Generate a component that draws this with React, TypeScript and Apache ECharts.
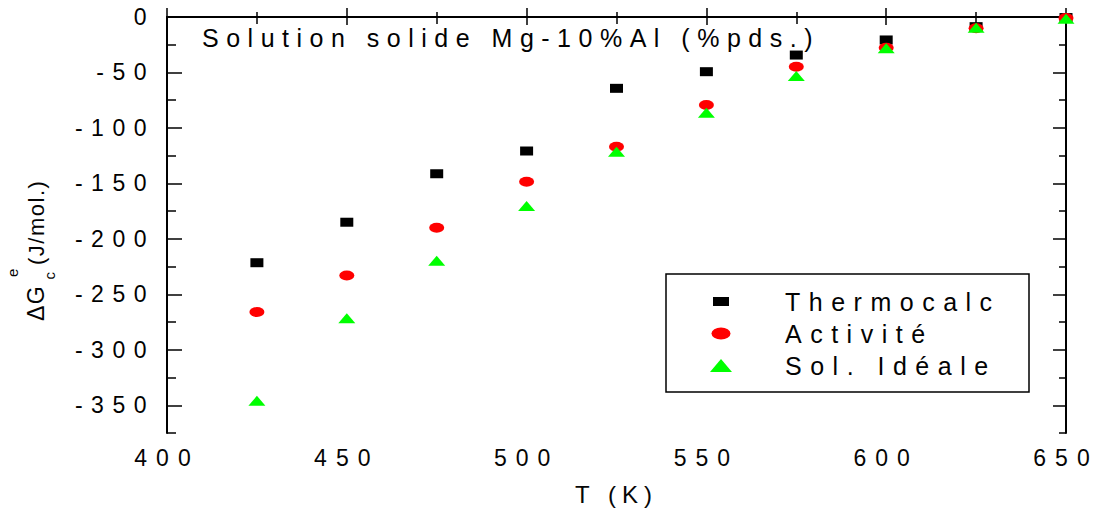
import React, { useEffect, useRef } from 'react';
import * as echarts from 'echarts';

// Temperatures (K) and excess Gibbs energy (J/mol.) for the Mg-10%Al solid solution
const temperatures = [425, 450, 475, 500, 525, 550, 575, 600, 625, 650];
const thermocalc = [-221.5, -185, -141.3, -120.8, -64.3, -49.3, -34.3, -20.7, -8.7, -0.5];
const activite = [-266, -233, -190, -148.5, -117, -79.4, -44.8, -27.7, -10.2, -1];
const solIdeale = [-346, -271.5, -219.7, -170.4, -121.4, -86.3, -53.2, -28.2, -9.6, -1.5];

const seriesNames = ['Thermocalc', 'Activité', 'Sol. Idéale'];
const titleText = 'Solution solide Mg-10%Al (%pds.)';
const xName = 'T (K)';

const xRange = [400, 650];
const yRange = [-375, 0];
const yMajorTicks = [0, -50, -100, -150, -200, -250, -300, -350];
const yMinorTicks = [-25, -75, -125, -175, -225, -275, -325, -375];

const FONT = "'Liberation Sans', Arial, sans-serif";

// text colours double as hooks for per-element letter spacing
const C_TICK = '#010101';
const C_TITLE = '#020202';
const C_LEGEND = '#030303';
const C_NAME = '#040404';
const C_XTICK = '#050505';
const C_XNAME = '#060606';

const css = `
.gchart text { letter-spacing: 0px; }
.gchart text[fill="${C_TICK}"] { letter-spacing: 8.5px; }
.gchart text[fill="${C_XTICK}"] { letter-spacing: 9px; }
.gchart text[fill="${C_TITLE}"] { letter-spacing: 7.5px; }
.gchart text[fill="${C_LEGEND}"] { letter-spacing: 8.5px; }
.gchart text[fill="${C_NAME}"] { letter-spacing: 1.5px; }
.gchart text[fill="${C_XNAME}"] { letter-spacing: 6px; }
`;

const ELLIPSE = 'path://M0,5A8,5 0 1,1 16,5A8,5 0 1,1 0,5Z';
const LEG_RECT = 'path://M0,0M79,14M12,2.5L28,2.5L28,11.5L12,11.5Z';
const LEG_ELLIPSE = 'path://M0,0M79,14M10.5,7A9.5,6 0 1,1 29.5,7A9.5,6 0 1,1 10.5,7Z';
const LEG_TRI = 'path://M0,0M79,14M9,13.5L20,0.5L31,13.5Z';

export default function App() {
  const ref = useRef<HTMLDivElement>(null);

  useEffect(() => {
    if (!ref.current) return;
    const chart = echarts.init(ref.current, undefined, { renderer: 'svg' });

    const axisLine = { show: true, lineStyle: { color: '#000', width: 2 } };
    const pair = (ys: number[]) => temperatures.map((t, i) => [t, ys[i]]);

    chart.setOption({
      animation: false,
      backgroundColor: '#fff',
      grid: { left: 167, right: 34, top: 17, bottom: 86, containLabel: false },
      title: {
        text: titleText,
        left: 202,
        top: 25,
        padding: 0,
        textStyle: { fontFamily: FONT, fontSize: 25, fontWeight: 'normal', color: C_TITLE },
      },
      legend: {
        orient: 'vertical',
        left: 701,
        top: 289,
        padding: 0,
        itemGap: 7,
        itemWidth: 79,
        itemHeight: 14,
        textStyle: { fontFamily: FONT, fontSize: 25, color: C_LEGEND },
        data: [
          { name: seriesNames[0], icon: LEG_RECT },
          { name: seriesNames[1], icon: LEG_ELLIPSE },
          { name: seriesNames[2], icon: LEG_TRI },
        ],
      },
      xAxis: [
        {
          type: 'value',
          position: 'bottom',
          min: xRange[0],
          max: xRange[1],
          interval: 50,
          name: xName,
          nameLocation: 'middle',
          nameGap: 49,
          nameTextStyle: { fontFamily: FONT, fontSize: 24, color: C_XNAME },
          axisLine,
          axisTick: { show: true, inside: true, length: 9, lineStyle: { color: '#000', width: 1.5 } },
          minorTick: { show: true, splitNumber: 2, length: 5, lineStyle: { color: '#000', width: 1.5 } },
          splitLine: { show: false },
          axisLabel: { fontFamily: FONT, fontSize: 23, color: C_XTICK, margin: 13 },
        },
        {
          type: 'value',
          position: 'top',
          min: xRange[0],
          max: xRange[1],
          interval: 50,
          axisLine: { show: true, lineStyle: { color: '#000', width: 1.5 } },
          axisTick: { show: true, inside: true, length: 8, lineStyle: { color: '#000', width: 1.5 } },
          minorTick: { show: true, splitNumber: 2, length: 7, lineStyle: { color: '#000', width: 1.5 } },
          splitLine: { show: false },
          axisLabel: { show: false },
        },
      ],
      yAxis: [
        {
          type: 'value',
          position: 'left',
          min: yRange[0],
          max: yRange[1],
          axisLine,
          axisTick: { show: true, inside: true, length: 15, customValues: yMajorTicks, lineStyle: { color: '#000', width: 1.5 } },
          splitLine: { show: false },
          axisLabel: { fontFamily: FONT, fontSize: 23, color: C_TICK, margin: 12, customValues: yMajorTicks },
        },
        {
          type: 'value',
          position: 'left',
          min: yRange[0],
          max: yRange[1],
          axisLine: { show: false },
          axisTick: { show: true, inside: true, length: 9, customValues: yMinorTicks, lineStyle: { color: '#000', width: 1.5 } },
          splitLine: { show: false },
          axisLabel: { show: false },
        },
        {
          type: 'value',
          position: 'right',
          min: yRange[0],
          max: yRange[1],
          axisLine,
          axisTick: { show: true, inside: true, length: 13, customValues: yMajorTicks, lineStyle: { color: '#000', width: 1.5 } },
          splitLine: { show: false },
          axisLabel: { show: false },
        },
        {
          type: 'value',
          position: 'right',
          min: yRange[0],
          max: yRange[1],
          axisLine: { show: false },
          axisTick: { show: true, inside: true, length: 7, customValues: yMinorTicks, lineStyle: { color: '#000', width: 1.5 } },
          splitLine: { show: false },
          axisLabel: { show: false },
        },
      ],
      graphic: [
        {
          type: 'rect',
          shape: { x: 666, y: 274, width: 363, height: 118 },
          style: { fill: 'none', stroke: '#000', lineWidth: 1.5 },
          z: 1,
        },
        {
          type: 'group',
          x: 36,
          y: 321,
          rotation: Math.PI / 2,
          children: [
            { type: 'text', x: 0, y: 0, style: { text: 'ΔG', fontFamily: FONT, fontSize: 23, fill: C_NAME, align: 'left', verticalAlign: 'middle' } },
            { type: 'text', x: 46, y: 13, style: { text: 'c', fontFamily: FONT, fontSize: 15, fill: C_NAME, align: 'center', verticalAlign: 'middle' } },
            { type: 'text', x: 49, y: -24, style: { text: 'e', fontFamily: FONT, fontSize: 15, fill: C_NAME, align: 'center', verticalAlign: 'middle' } },
            { type: 'text', x: 56, y: 0, style: { text: '(J/mol.)', fontFamily: FONT, fontSize: 22, fill: C_NAME, align: 'left', verticalAlign: 'middle' } },
          ],
        },
      ],
      series: [
        {
          name: seriesNames[0],
          type: 'scatter',
          data: pair(thermocalc),
          symbol: 'rect',
          symbolSize: [13, 9],
          itemStyle: { color: '#000000', opacity: 1 },
          clip: false,
        },
        {
          name: seriesNames[1],
          type: 'scatter',
          data: pair(activite),
          symbol: ELLIPSE,
          symbolSize: [15, 10],
          itemStyle: { color: '#ff0000', opacity: 1 },
          clip: false,
        },
        {
          name: seriesNames[2],
          type: 'scatter',
          data: pair(solIdeale),
          symbol: 'triangle',
          symbolSize: [17, 10],
          itemStyle: { color: '#00ff00', opacity: 1 },
          clip: false,
        },
      ],
    });

    return () => chart.dispose();
  }, []);

  return (
    <>
      <style>{css}</style>
      <div
        ref={ref}
        className="gchart"
        style={{ position: 'fixed', left: 0, top: 0, width: 1100, height: 519, background: '#fff' }}
      />
    </>
  );
}
